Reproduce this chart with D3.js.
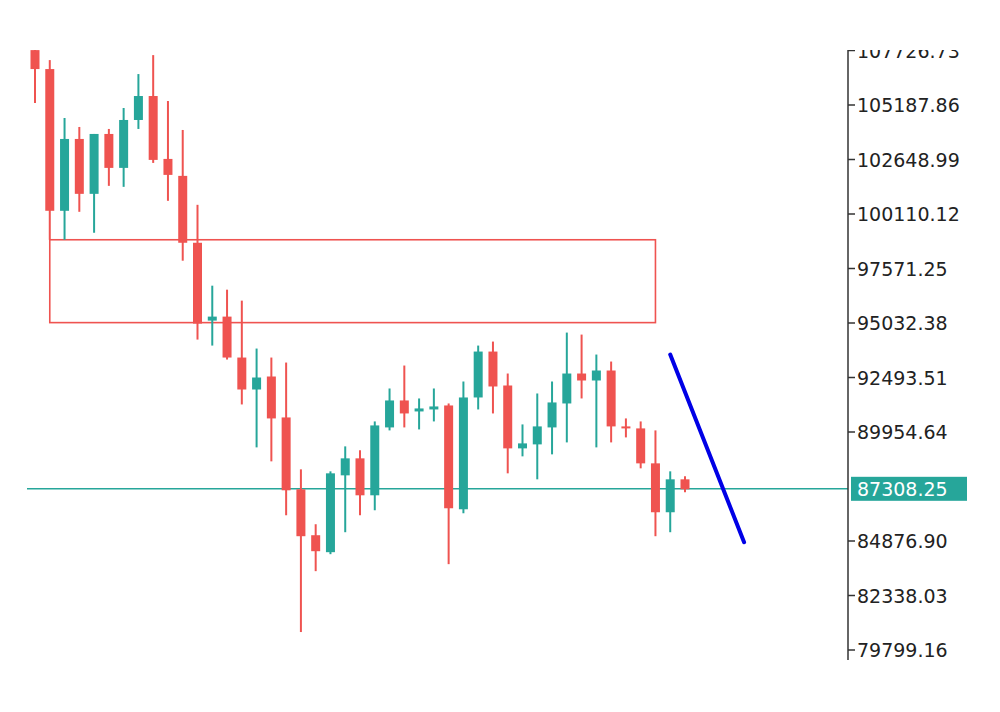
<!DOCTYPE html>
<html><head><meta charset="utf-8">
<script src="https://cdn.jsdelivr.net/npm/d3@7"></script>
<style>body{margin:0;background:#fff}</style></head>
<body><svg id="c" width="1000" height="712"></svg>
<script>
const opens  = [107745,106862,100259,103606,101049,103839,102258,104490,105606,102676,101886,98770,95144,95330,93423,91935,92540,90633,87285,85146,84356,87936,88727,87006,90168,91424,90912,91005,91191,86355,91563,93702,92121,89192,89378,90168,91284,92679,92354,92819,90215,90122,88494,86216,87750];
const highs  = [107838,107280,104583,104165,103839,104072,105048,106629,107512,105373,104025,100538,96771,96585,96074,93842,93423,93190,88215,85658,88122,89285,89099,90447,91982,93051,91517,91982,91284,92307,93981,94167,92679,90308,91749,92307,94586,94493,93563,93237,90587,90447,90029,88122,87890];
const lows   = [105280,98910,98910,100212,99236,101421,101375,104072,102490,100724,97934,94260,93981,93330,91238,89238,88587,86076,80636,83472,84263,85286,86076,86309,90029,90168,90075,90447,83798,86169,91005,90819,88029,88820,87750,88913,89470,91517,89238,89470,89703,88262,85100,85286,87146];
const closes = [106862,100259,103606,101049,103839,102258,104490,105606,102630,101932,98770,95004,95330,93423,91935,92493,90587,87239,85100,84402,88029,88727,87006,90261,91424,90819,91052,91145,86402,91563,93702,92075,89192,89424,90215,91331,92679,92354,92819,90215,90122,88494,86216,87750,87285];
const tickLabels = [107726.73,105187.86,102648.99,100110.12,97571.25,95032.38,92493.51,89954.64,87308.25,84876.90,82338.03,79799.16];
const currentPrice = 87308.25;
const zone = {i0:1, i1:42, top:98910, bottom:95050};
const trend = [{i:43, p:93563},{i:48, p:84820}];

const svg = d3.select("#c");
const y = d3.scaleLinear().domain([79799.16,105187.86]).range([650,105]);
const x = d3.scaleLinear().domain([0,44]).range([35,685]);
const up="#26a69a", dn="#ef5350";
svg.append("clipPath").attr("id","cl").append("rect").attr("x",0).attr("y",50).attr("width",1000).attr("height",662);
const g = svg.append("g").attr("clip-path","url(#cl)");

g.append("rect").attr("x",x(zone.i0)).attr("y",y(zone.top)).attr("width",x(zone.i1)-x(zone.i0))
 .attr("height",y(zone.bottom)-y(zone.top)).attr("fill","none").attr("stroke",dn).attr("stroke-width",1.6);

g.append("line").attr("x1",27).attr("x2",848).attr("y1",y(currentPrice)).attr("y2",y(currentPrice))
 .attr("stroke",up).attr("stroke-width",1.5);

opens.forEach((o,i)=>{
  const c=closes[i], col=c>=o?up:dn;
  g.append("line").attr("x1",x(i)).attr("x2",x(i)).attr("y1",y(highs[i])).attr("y2",y(lows[i])).attr("stroke",col).attr("stroke-width",2);
  const t=y(Math.max(o,c)), b=y(Math.min(o,c));
  g.append("rect").attr("x",x(i)-4.5).attr("width",9).attr("y",t).attr("height",Math.max(2,b-t)).attr("fill",col);
});

g.append("line").attr("x1",x(trend[0].i)).attr("y1",y(trend[0].p)).attr("x2",x(trend[1].i)).attr("y2",y(trend[1].p))
 .attr("stroke","#0000e6").attr("stroke-width",4).attr("stroke-linecap","round");

const ax=g.append("g");
ax.append("line").attr("x1",848).attr("x2",848).attr("y1",40).attr("y2",660).attr("stroke","#333").attr("stroke-width",1.5);
tickLabels.forEach(v=>{
  const yy=y(v);
  if(v===currentPrice){
    ax.append("rect").attr("x",851).attr("y",yy-12).attr("width",116).attr("height",24).attr("fill",up);
    ax.append("text").attr("x",857).attr("y",yy+7).attr("fill","#fff").attr("font-family","DejaVu Sans").attr("font-size",19).text(v.toFixed(2));
  } else {
    ax.append("line").attr("x1",848).attr("x2",855).attr("y1",yy).attr("y2",yy).attr("stroke","#333").attr("stroke-width",1.5);
    ax.append("text").attr("x",857).attr("y",yy+7).attr("fill","#222").attr("font-family","DejaVu Sans").attr("font-size",19).text(v.toFixed(2));
  }
});
</script></body></html>
